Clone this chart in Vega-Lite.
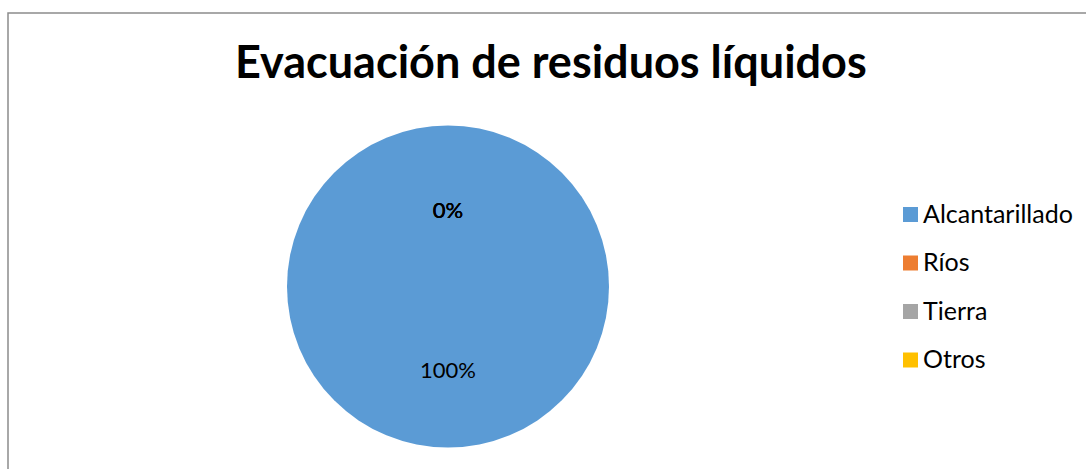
{
  "$schema": "https://vega.github.io/schema/vega-lite/v6.json",
  "width": 1090,
  "height": 460,
  "autosize": {"type": "none"},
  "padding": {"left": 8, "top": 13, "right": 0, "bottom": 0},
  "background": "white",
  "view": {"stroke": "#8c8c8c", "strokeWidth": 1.5},
  "config": {"view": {"stroke": "#8c8c8c", "strokeWidth": 1.5}},
  "layer": [
    {
      "data": {"values": [{"t": "Evacuación de residuos líquidos"}]},
      "mark": {"type": "text", "x": {"expr": "width*0.498"}, "y": {"expr": "height*0.1413"}, "baseline": "alphabetic", "align": "center", "font": "Lato", "fontSize": 45, "fontWeight": "bold", "color": "#000000"},
      "encoding": {"text": {"field": "t", "type": "nominal"}}
    },
    {
      "data": {
        "values": [
          {"cat": "Alcantarillado", "pct": 1, "ord": 1},
          {"cat": "Ríos", "pct": 0, "ord": 2},
          {"cat": "Tierra", "pct": 0, "ord": 3},
          {"cat": "Otros", "pct": 0, "ord": 4}
        ]
      },
      "encoding": {
        "theta": {"field": "pct", "type": "quantitative", "stack": true},
        "order": {"field": "ord", "type": "quantitative"}
      },
      "layer": [
        {
          "mark": {"type": "arc", "outerRadius": 161, "x": {"expr": "width*0.40367"}, "y": {"expr": "height*0.5946"}},
          "encoding": {
            "color": {
              "field": "cat",
              "type": "nominal",
              "scale": {
                "domain": ["Alcantarillado", "Ríos", "Tierra", "Otros"],
                "range": ["#5B9BD5", "#ED7D31", "#A5A5A5", "#FFC000"]
              },
              "legend": {
                "title": null,
                "orient": "none",
                "legendX": 890,
                "legendY": 189,
                "symbolType": "square",
                "symbolSize": 225,
                "symbolStrokeWidth": 0,
                "symbolOpacity": 1,
                "labelFont": "Lato",
                "labelFontSize": 25,
                "labelColor": "#000000",
                "labelOffset": 0,
                "rowPadding": 22.5,
                "padding": 0
              }
            }
          }
        },
        {
          "mark": {"type": "text", "radius": 80, "dy": 4, "x": {"expr": "width*0.40367"}, "y": {"expr": "height*0.5946"}, "font": "Lato", "fontSize": 22, "color": "#000000"},
          "encoding": {
            "text": {"field": "pct", "type": "quantitative", "format": ".0%"}
          }
        }
      ]
    }
  ]
}
